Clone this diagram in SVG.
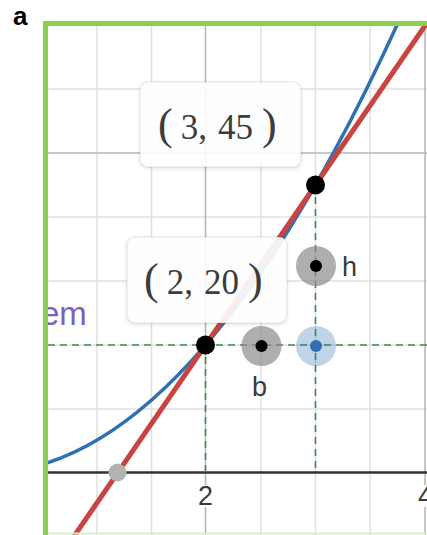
<svg xmlns="http://www.w3.org/2000/svg" width="427" height="535" viewBox="0 0 427 535">
<style>
.minor{stroke:#e0e0e0;stroke-width:1.5;fill:none}
.major{stroke:#b4b4b4;stroke-width:1.5;fill:none}
.dash{stroke:#3a8f47;stroke-width:1.6;stroke-dasharray:7 5;fill:none}
.box{fill:#fff;fill-opacity:0.9;stroke:#000;stroke-opacity:0.07;stroke-width:1.5}
.coord{font-family:"Liberation Serif","DejaVu Serif",serif;font-size:35px;fill:#3c3c3c}
.par{font-size:44px}
.lbl{font-family:"Liberation Sans",Arial,sans-serif;font-size:27px;fill:#3a3a3a}
</style>
<defs>
<clipPath id="plot"><rect x="48" y="26" width="379" height="509"/></clipPath>
<filter id="sh" x="-10%" y="-10%" width="120%" height="130%"><feDropShadow dx="0" dy="1.5" stdDeviation="2" flood-color="#000" flood-opacity="0.12"/></filter>
</defs>
<rect width="427" height="535" fill="#fff"/>
<text x="13" y="25" font-family="Liberation Sans,Arial,sans-serif" font-size="26" font-weight="bold" fill="#000">a</text>
<g id="grid" clip-path="url(#plot)">
<g class="minor">
<line x1="97" y1="0" x2="97" y2="535"/>
<line x1="151.5" y1="0" x2="151.5" y2="535"/>
<line x1="261" y1="0" x2="261" y2="535"/>
<line x1="315.5" y1="0" x2="315.5" y2="535"/>
<line x1="370" y1="0" x2="370" y2="535"/>
<line x1="0" y1="25" x2="427" y2="25"/>
<line x1="0" y1="89" x2="427" y2="89"/>
<line x1="0" y1="217" x2="427" y2="217"/>
<line x1="0" y1="281" x2="427" y2="281"/>
<line x1="0" y1="345" x2="427" y2="345"/>
<line x1="0" y1="409" x2="427" y2="409"/>
</g>
<g class="major">
<line x1="205.5" y1="0" x2="205.5" y2="485"/>
<line x1="205.5" y1="507" x2="205.5" y2="535"/>
<line x1="425" y1="0" x2="425" y2="485"/>
<line x1="425" y1="507" x2="425" y2="535"/>
<line x1="0" y1="153" x2="427" y2="153"/>
</g>
<line x1="0" y1="472.5" x2="427" y2="472.5" stroke="#333" stroke-width="2.5"/>
<text class="lbl" x="205.5" y="505" text-anchor="middle">2</text>
<text class="lbl" x="418" y="505">4</text>
<text x="41" y="325" font-family="Liberation Sans,Arial,sans-serif" font-size="33" fill="#7d5fc1">em</text>
</g>
<g id="connectors" clip-path="url(#plot)">
<line class="dash" x1="48" y1="345" x2="427" y2="345"/>
<line class="dash" x1="205.5" y1="345" x2="205.5" y2="472"/>
<line class="dash" x1="315.5" y1="185" x2="315.5" y2="472"/>
<path id="parabola" d="M40.5 465 Q222 412.2 403.5 10.9" fill="none" stroke="#2d70b3" stroke-width="3.5"/>
<line id="secant" x1="51.5" y1="569" x2="431" y2="17" stroke="#c74440" stroke-width="5"/>
</g>
<g id="label-3-45">
<rect class="box" x="140" y="82" width="161" height="85" rx="8" filter="url(#sh)"/>
<text class="coord" x="158" y="139"><tspan class="par">(</tspan><tspan dx="8">3,</tspan><tspan dx="11">45</tspan><tspan class="par" dx="9">)</tspan></text>
</g>
<g id="label-2-20">
<rect class="box" x="127" y="237" width="160" height="86" rx="8" filter="url(#sh)"/>
<text class="coord" x="144" y="294"><tspan class="par">(</tspan><tspan dx="8">2,</tspan><tspan dx="11">20</tspan><tspan class="par" dx="9">)</tspan></text>
</g>
<g id="point-intercept"><circle cx="117.5" cy="472.5" r="9" fill="#b3b3b3"/></g>
<g id="point-2-20"><circle cx="205.5" cy="345" r="9.5" fill="#000"/></g>
<g id="point-3-45"><circle cx="315.5" cy="185" r="9.5" fill="#000"/></g>
<g id="point-h">
<circle cx="316" cy="266" r="20" fill="#8c8c8c" fill-opacity="0.7"/>
<circle cx="316" cy="266" r="6" fill="#000"/>
<text class="lbl" x="342" y="276">h</text>
</g>
<g id="point-b">
<circle cx="261.5" cy="346" r="20" fill="#8c8c8c" fill-opacity="0.7"/>
<circle cx="261.5" cy="346" r="6" fill="#000"/>
<text class="lbl" x="252" y="396">b</text>
</g>
<g id="point-blue">
<circle cx="316" cy="346" r="20" fill="#2d70b3" fill-opacity="0.3"/>
<circle cx="316" cy="346" r="6" fill="#2d70b3"/>
</g>
<g id="frame" fill="none">
<path d="M45.5 535 V23.5 H427" stroke="#8ccf4d" stroke-width="5"/>
<line x1="48" y1="533.5" x2="427" y2="533.5" stroke="#d6efc4" stroke-width="2"/>
</g>
</svg>
